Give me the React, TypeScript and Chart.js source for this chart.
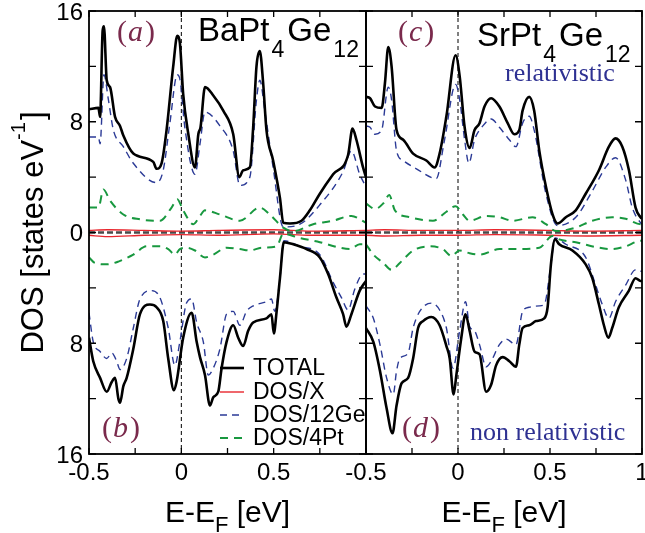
import React, { useEffect, useRef } from "react";
import { Chart, registerables } from "chart.js";

Chart.register(...registerables);

// ---------- data (energy E-EF in eV, DOS in states/eV) ----------
// Panel (a): BaPt4Ge12 relativistic
const aTotalE = [-0.5, -0.449, -0.44, -0.426, -0.419, -0.404, -0.386, -0.359, -0.332, -0.314, -0.26, -0.152, -0.134, -0.107, -0.08, -0.044, -0.022, -0.008, 0.01, 0.038, 0.074, 0.092, 0.104, 0.128, 0.173, 0.227, 0.281, 0.314, 0.335, 0.371, 0.389, 0.407, 0.425, 0.443, 0.461, 0.497, 0.534, 0.552, 0.588, 0.651, 0.696, 0.75, 0.822, 0.903, 0.927, 0.948, 0.984, 1.0];
const aTotalD = [8.9, 9.0, 8.35, 14.6, 14.9, 11.0, 10.5, 8.35, 7.7, 7.0, 5.7, 5.1, 4.6, 5.0, 7.4, 12.0, 14.2, 13.7, 10.0, 7.1, 4.7, 7.1, 7.6, 10.5, 9.9, 8.8, 7.1, 4.0, 4.5, 4.7, 7.6, 12.0, 13.1, 10.8, 7.4, 5.2, 2.5, 0.7, 0.65, 0.85, 1.6, 2.8, 4.2, 5.6, 7.5, 6.7, 4.7, 4.0];
const aGeE = [-0.5, -0.449, -0.44, -0.419, -0.395, -0.368, -0.314, -0.26, -0.134, -0.098, -0.062, -0.022, -0.008, 0.019, 0.074, 0.101, 0.128, 0.209, 0.281, 0.317, 0.371, 0.407, 0.425, 0.452, 0.497, 0.552, 0.642, 0.75, 0.876, 0.921, 0.966, 1.0];
const aGeD = [6.9, 6.9, 6.4, 11.4, 9.6, 7.4, 6.2, 5.0, 3.6, 4.5, 7.9, 11.4, 11.1, 7.6, 4.2, 6.4, 8.7, 7.7, 5.9, 3.4, 4.0, 9.6, 11.0, 8.8, 4.7, 0.4, 0.6, 2.0, 4.4, 5.9, 4.2, 3.3];
const aPtE = [-0.5, -0.449, -0.422, -0.386, -0.314, -0.224, -0.116, -0.053, -0.022, 0.01, 0.065, 0.101, 0.128, 0.209, 0.317, 0.425, 0.479, 0.552, 0.606, 0.714, 0.822, 0.921, 1.0];
const aPtD = [1.8, 1.8, 3.1, 2.3, 1.3, 0.95, 0.85, 1.8, 2.4, 1.6, 0.6, 1.2, 1.6, 1.3, 0.85, 1.8, 1.3, 0.35, 0.1, 0.6, 0.85, 1.2, 0.7];
const aXE = [-0.5, -0.4, -0.2, 0.0, 0.2, 0.5, 0.7, 1.0];
const aXD = [0.15, 0.2, 0.15, 0.1, 0.15, 0.2, 0.1, 0.15];

// Panel (b): BaPt4Ge12 non relativistic
const bTotalE = [-0.5, -0.477, -0.44, -0.404, -0.377, -0.359, -0.341, -0.332, -0.314, -0.296, -0.26, -0.224, -0.17, -0.134, -0.098, -0.071, -0.04, -0.026, 0.01, 0.056, 0.083, 0.101, 0.128, 0.155, 0.173, 0.2, 0.218, 0.245, 0.281, 0.308, 0.335, 0.362, 0.389, 0.461, 0.488, 0.501, 0.516, 0.534, 0.555, 0.606, 0.678, 0.75, 0.795, 0.84, 0.876, 0.894, 0.921, 0.966, 1.0];
const bTotalD = [7.6, 9.3, 10.5, 11.5, 10.8, 10.5, 12.0, 12.3, 11.1, 10.5, 8.4, 5.9, 5.2, 5.4, 6.4, 9.1, 11.4, 10.8, 7.6, 5.8, 7.9, 9.0, 10.3, 12.5, 11.9, 11.5, 9.8, 7.9, 6.7, 7.6, 8.2, 7.1, 6.5, 6.2, 5.9, 7.3, 5.7, 3.3, 0.7, 0.85, 1.2, 1.8, 3.0, 4.7, 5.9, 6.8, 5.9, 4.2, 3.5];
const bGeE = [-0.5, -0.477, -0.44, -0.404, -0.377, -0.35, -0.332, -0.296, -0.26, -0.224, -0.161, -0.116, -0.071, -0.035, -0.008, 0.028, 0.056, 0.083, 0.119, 0.146, 0.173, 0.209, 0.245, 0.281, 0.317, 0.353, 0.389, 0.461, 0.488, 0.506, 0.534, 0.555, 0.642, 0.75, 0.822, 0.867, 0.903, 0.939, 0.984, 1.0];
const bGeD = [5.8, 7.9, 8.6, 9.1, 8.7, 9.3, 9.9, 9.1, 6.9, 4.8, 4.2, 4.7, 6.9, 9.6, 7.9, 5.1, 4.8, 6.5, 7.9, 10.3, 9.8, 8.4, 5.9, 5.7, 6.7, 5.7, 5.3, 5.0, 4.8, 5.7, 3.3, 0.6, 1.0, 1.6, 3.6, 4.7, 5.6, 4.1, 3.0, 3.0];
const bPtE = [-0.5, -0.468, -0.404, -0.341, -0.26, -0.188, -0.116, -0.071, -0.035, -0.008, 0.028, 0.074, 0.128, 0.173, 0.245, 0.317, 0.371, 0.434, 0.516, 0.552, 0.642, 0.75, 0.858, 0.912, 0.966, 1.0];
const bPtD = [1.8, 2.2, 2.3, 2.1, 1.6, 1.0, 1.0, 1.2, 1.6, 1.2, 1.1, 1.3, 1.8, 1.6, 1.1, 1.2, 1.3, 1.1, 1.0, 0.1, 0.4, 0.7, 1.1, 1.2, 0.85, 0.85];
const bXE = [-0.5, -0.4, -0.2, 0.0, 0.2, 0.5, 0.7, 1.0];
const bXD = [0.2, 0.3, 0.2, 0.15, 0.2, 0.1, 0.2, 0.2];

// Panel (c): SrPt4Ge12 relativistic
const cTotalE = [-0.5, -0.478, -0.451, -0.415, -0.397, -0.379, -0.361, -0.334, -0.298, -0.244, -0.172, -0.127, -0.1, -0.063, -0.013, 0.009, 0.036, 0.063, 0.09, 0.117, 0.144, 0.18, 0.225, 0.27, 0.306, 0.333, 0.351, 0.387, 0.414, 0.442, 0.478, 0.514, 0.541, 0.586, 0.64, 0.694, 0.766, 0.82, 0.856, 0.893, 0.929, 0.965, 0.992, 1.0];
const cTotalD = [9.8, 9.7, 9.1, 9.0, 10.8, 13.4, 12.0, 7.4, 6.7, 5.7, 5.2, 4.7, 5.7, 8.4, 12.8, 11.3, 7.6, 6.1, 7.4, 7.9, 9.1, 9.7, 9.1, 7.9, 7.1, 7.4, 8.8, 9.8, 8.8, 5.9, 3.3, 1.3, 0.65, 1.1, 1.6, 2.8, 4.5, 6.2, 6.8, 6.2, 4.5, 1.8, 1.1, 1.0];
const cGeE = [-0.5, -0.478, -0.451, -0.415, -0.379, -0.361, -0.334, -0.298, -0.226, -0.118, -0.073, -0.013, 0.009, 0.036, 0.059, 0.09, 0.135, 0.18, 0.225, 0.279, 0.315, 0.351, 0.387, 0.414, 0.478, 0.541, 0.64, 0.73, 0.802, 0.856, 0.911, 0.947, 0.992, 1.0];
const cGeD = [7.7, 7.6, 7.1, 7.4, 10.5, 9.6, 5.9, 5.2, 4.6, 3.9, 6.7, 10.7, 9.6, 6.7, 5.0, 6.7, 7.7, 8.2, 7.6, 6.7, 6.2, 7.9, 8.4, 7.4, 2.8, 0.5, 1.1, 3.0, 4.7, 5.4, 3.8, 1.8, 0.7, 0.6];
const cPtE = [-0.5, -0.451, -0.406, -0.374, -0.343, -0.262, -0.136, -0.063, -0.013, 0.027, 0.063, 0.153, 0.225, 0.297, 0.405, 0.478, 0.532, 0.64, 0.73, 0.838, 0.911, 0.992, 1.0];
const cPtD = [2.1, 1.7, 2.1, 2.7, 1.6, 1.1, 0.85, 1.5, 1.9, 1.3, 0.85, 1.2, 1.1, 0.85, 1.1, 0.6, 0.1, 0.35, 0.85, 1.1, 1.0, 0.6, 0.6];
const cXE = [-0.5, -0.4, -0.2, 0.0, 0.2, 0.5, 0.7, 1.0];
const cXD = [0.15, 0.2, 0.15, 0.15, 0.2, 0.15, 0.1, 0.15];

// Panel (d): SrPt4Ge12 non relativistic
const dTotalE = [-0.5, -0.46, -0.424, -0.388, -0.356, -0.334, -0.307, -0.271, -0.244, -0.217, -0.19, -0.145, -0.1, -0.063, -0.045, -0.024, -0.009, 0.018, 0.041, 0.063, 0.09, 0.117, 0.153, 0.18, 0.207, 0.243, 0.279, 0.315, 0.333, 0.351, 0.387, 0.424, 0.469, 0.487, 0.505, 0.528, 0.55, 0.622, 0.694, 0.73, 0.766, 0.793, 0.817, 0.838, 0.874, 0.929, 0.965, 0.992, 1.0];
const dTotalD = [6.9, 7.9, 10.0, 12.7, 14.5, 12.5, 10.9, 10.5, 9.1, 6.9, 6.4, 6.1, 6.7, 8.2, 9.1, 11.7, 10.3, 7.6, 5.9, 7.1, 8.6, 8.8, 11.5, 11.0, 9.6, 9.0, 9.3, 9.7, 8.1, 6.9, 6.7, 6.4, 6.2, 5.4, 2.3, 0.5, 0.85, 1.3, 2.3, 3.3, 5.2, 6.7, 7.6, 6.9, 5.4, 4.2, 3.3, 3.5, 3.5];
const dGeE = [-0.5, -0.46, -0.424, -0.388, -0.352, -0.334, -0.316, -0.271, -0.244, -0.208, -0.145, -0.1, -0.063, -0.027, 0.009, 0.041, 0.063, 0.09, 0.117, 0.153, 0.18, 0.225, 0.261, 0.315, 0.351, 0.387, 0.442, 0.469, 0.505, 0.528, 0.586, 0.694, 0.748, 0.784, 0.82, 0.856, 0.911, 0.965, 0.992, 1.0];
const dGeD = [5.3, 6.2, 8.1, 10.5, 11.7, 10.0, 9.1, 8.7, 6.9, 5.7, 5.1, 5.6, 6.9, 9.8, 7.1, 5.0, 6.8, 7.1, 8.1, 9.7, 9.3, 8.1, 7.7, 8.1, 5.7, 5.4, 5.3, 5.2, 2.3, 0.4, 0.85, 1.8, 3.8, 5.2, 6.2, 5.0, 3.8, 2.7, 2.8, 2.8];
const dPtE = [-0.5, -0.46, -0.406, -0.361, -0.316, -0.244, -0.154, -0.082, -0.036, 0.009, 0.063, 0.117, 0.225, 0.315, 0.442, 0.514, 0.55, 0.64, 0.766, 0.838, 0.911, 0.992, 1.0];
const dPtD = [0.85, 1.6, 2.2, 2.7, 2.2, 1.3, 1.0, 1.2, 1.7, 1.3, 1.5, 1.6, 1.2, 1.2, 1.1, 0.25, 0.5, 0.7, 1.1, 1.2, 1.0, 0.6, 0.6];
const dXE = [-0.5, -0.4, -0.2, 0.0, 0.2, 0.5, 0.7, 1.0];
const dXD = [0.2, 0.25, 0.2, 0.2, 0.15, 0.2, 0.25, 0.2];

// ---------- axes ----------
const xMin = -0.5;
const xMax = 1.0;
const yMin = -16;
const yMax = 16;
const xTickValues = [-0.5, -0.25, 0, 0.25, 0.5, 0.75, 1.0];
const yTickValues = [-16, -12, -8, -4, 0, 4, 8, 12, 16];
const yLabelValues = [16, 8, 0, -8, -16];
const xLabelsLeft = [-0.5, 0, 0.5];
const xLabelsRight = [-0.5, 0, 0.5, 1];
const legendLabels = ["TOTAL", "DOS/X", "DOS/12Ge", "DOS/4Pt"];

// ---------- styles ----------
const SANS = '"Liberation Sans", Arial, Helvetica, sans-serif';
const SERIF = '"Liberation Serif", "Times New Roman", serif';
const LABEL_COLOR = "#7a2a4c";
const NOTE_COLOR = "#2e3192";

const STYLE_TOTAL = { borderColor: "#000000", borderWidth: 2.6, borderDash: [] as number[] };
const STYLE_X = { borderColor: "#e8262d", borderWidth: 1.4, borderDash: [] as number[] };
const STYLE_GE = { borderColor: "#2b3a96", borderWidth: 1.4, borderDash: [7, 5] };
const STYLE_PT = { borderColor: "#18983f", borderWidth: 2.0, borderDash: [8, 6] };
const legendStyles = [STYLE_TOTAL, STYLE_X, STYLE_GE, STYLE_PT];

function pts(e: number[], v: number[], sign: number) {
  return e.map((xv, i) => ({ x: xv, y: sign * v[i] }));
}

function ds(label: string, style: any, e: number[], v: number[], sign: number) {
  return {
    label,
    data: pts(e, v, sign),
    borderColor: style.borderColor,
    borderWidth: style.borderWidth,
    borderDash: style.borderDash,
    pointRadius: 0,
    fill: false,
    cubicInterpolationMode: "monotone" as const,
  };
}

type Part = { t: string; sub?: boolean };

function drawFormula(ctx: CanvasRenderingContext2D, parts: Part[], x: number, y: number, size: number, subSize: number, subDrop: number, gapBefore: number, gapAfter: number) {
  let cx = x;
  ctx.textAlign = "left";
  ctx.textBaseline = "alphabetic";
  for (const p of parts) {
    ctx.font = `${p.sub ? subSize : size}px ${SANS}`;
    if (p.sub) cx += gapBefore;
    ctx.fillText(p.t, cx, p.sub ? y + subDrop : y);
    cx += ctx.measureText(p.t).width + (p.sub ? gapAfter : 0);
  }
}

function partsWidth(ctx: CanvasRenderingContext2D, parts: Part[], size: number, subSize: number) {
  let w = 0;
  for (const p of parts) {
    ctx.font = `${p.sub ? subSize : size}px ${SANS}`;
    w += ctx.measureText(p.t).width;
  }
  return w;
}

function drawPanelLabel(ctx: CanvasRenderingContext2D, letter: string, x: number, y: number) {
  ctx.fillStyle = LABEL_COLOR;
  ctx.textAlign = "left";
  ctx.textBaseline = "alphabetic";
  let cx = x;
  ctx.font = `30px ${SERIF}`;
  ctx.fillText("(", cx, y);
  cx += ctx.measureText("(").width + 1;
  ctx.font = `italic 30px ${SERIF}`;
  ctx.fillText(letter, cx, y);
  cx += ctx.measureText(letter).width + 2;
  ctx.font = `30px ${SERIF}`;
  ctx.fillText(")", cx, y);
}

type PanelCfg = {
  side: "left" | "right";
  topLabel: string;
  bottomLabel: string;
  formula: Part[];
  formulaDx: number;
  formulaDy: number;
  xLabels: number[];
};

function makeDecor(cfg: PanelCfg) {
  return {
    id: "decor",
    beforeDatasetsDraw(chart: any) {
      const { ctx, chartArea: a } = chart;
      const xs = chart.scales.x;
      const ys = chart.scales.y;
      ctx.save();
      const y0 = ys.getPixelForValue(0);
      ctx.strokeStyle = "#4a4a4a";
      ctx.lineWidth = 2.5;
      ctx.setLineDash([6, 3]);
      ctx.beginPath();
      ctx.moveTo(a.left, y0);
      ctx.lineTo(a.right, y0);
      ctx.stroke();
      const x0 = xs.getPixelForValue(0);
      ctx.strokeStyle = "#000";
      ctx.lineWidth = 1;
      ctx.setLineDash([4, 3]);
      ctx.beginPath();
      ctx.moveTo(x0, a.top);
      ctx.lineTo(x0, a.bottom);
      ctx.stroke();
      ctx.restore();
    },
    afterDraw(chart: any) {
      const { ctx, chartArea: a } = chart;
      const xs = chart.scales.x;
      const ys = chart.scales.y;
      ctx.save();
      ctx.setLineDash([]);
      // frame
      ctx.strokeStyle = "#000";
      ctx.lineWidth = 1.8;
      ctx.strokeRect(a.left, a.top, a.right - a.left, a.bottom - a.top);
      // inward ticks
      ctx.lineWidth = 1.3;
      ctx.beginPath();
      for (const v of xTickValues) {
        const px = xs.getPixelForValue(v);
        ctx.moveTo(px, a.bottom);
        ctx.lineTo(px, a.bottom - 6);
        ctx.moveTo(px, a.top);
        ctx.lineTo(px, a.top + 6);
      }
      for (const v of yTickValues) {
        const py = ys.getPixelForValue(v);
        ctx.moveTo(a.left, py);
        ctx.lineTo(a.left + 7, py);
        ctx.moveTo(a.right, py);
        ctx.lineTo(a.right - 7, py);
      }
      ctx.stroke();

      // tick labels
      ctx.fillStyle = "#000";
      ctx.font = `24px ${SANS}`;
      ctx.textAlign = "center";
      ctx.textBaseline = "alphabetic";
      for (const v of cfg.xLabels) {
        ctx.fillText(String(v), xs.getPixelForValue(v), a.bottom + 26);
      }
      if (cfg.side === "left") {
        ctx.textAlign = "right";
        ctx.textBaseline = "middle";
        for (const v of yLabelValues) {
          ctx.fillText(String(Math.abs(v)), a.left - 6, ys.getPixelForValue(v) + 2);
        }
      }

      // x title
      const xParts: Part[] = [{ t: "E-E" }, { t: "F", sub: true }, { t: " [eV]" }];
      const w = partsWidth(ctx, xParts, 30, 22);
      ctx.fillStyle = "#000";
      drawFormula(ctx, xParts, (a.left + a.right) / 2 - w / 2, a.bottom + 68, 30, 22, 10, 0, 0);

      // y title (left only)
      if (cfg.side === "left") {
        ctx.save();
        ctx.translate(43, (a.top + a.bottom) / 2);
        ctx.rotate(-Math.PI / 2);
        ctx.fillStyle = "#000";
        ctx.textAlign = "left";
        ctx.textBaseline = "alphabetic";
        const m1 = "DOS [states eV";
        const s1 = "-1";
        const m2 = "]";
        ctx.font = `31px ${SANS}`;
        const w1 = ctx.measureText(m1).width;
        const w3 = ctx.measureText(m2).width;
        ctx.font = `20px ${SANS}`;
        const w2 = ctx.measureText(s1).width;
        let cx = -(w1 + w2 + w3 + 2) / 2;
        ctx.font = `31px ${SANS}`;
        ctx.fillText(m1, cx, 0);
        cx += w1;
        ctx.font = `20px ${SANS}`;
        ctx.fillText(s1, cx, -18);
        cx += w2 + 2;
        ctx.font = `31px ${SANS}`;
        ctx.fillText(m2, cx, 0);
        ctx.restore();
      }

      // formula
      ctx.fillStyle = "#000";
      drawFormula(ctx, cfg.formula, a.left + cfg.formulaDx, a.top + cfg.formulaDy, 33, 23, 16, 2, 3);

      // panel labels
      drawPanelLabel(ctx, cfg.topLabel, a.left + (cfg.side === "left" ? 28 : 32), a.top + 30);
      drawPanelLabel(ctx, cfg.bottomLabel, a.left + (cfg.side === "left" ? 13 : 36), a.top + 426);

      if (cfg.side === "right") {
        ctx.fillStyle = NOTE_COLOR;
        ctx.font = `26px ${SERIF}`;
        ctx.textAlign = "left";
        ctx.textBaseline = "alphabetic";
        ctx.fillText("relativistic", a.left + 139, a.top + 70);
        ctx.fillText("non relativistic", a.left + 104, a.top + 429);
      } else {
        // legend
        const rows = [357, 381, 404, 427];
        legendLabels.forEach((lab, i) => {
          const st = legendStyles[i];
          const ry = a.top + rows[i];
          ctx.strokeStyle = st.borderColor;
          ctx.lineWidth = st.borderWidth;
          ctx.setLineDash(st.borderDash);
          ctx.beginPath();
          ctx.moveTo(a.left + 131, ry);
          ctx.lineTo(a.left + 155, ry);
          ctx.stroke();
          ctx.setLineDash([]);
          ctx.fillStyle = "#000";
          ctx.font = `23px ${SANS}`;
          ctx.textAlign = "left";
          ctx.textBaseline = "middle";
          ctx.fillText(lab, a.left + 164, ry + 0.5);
        });
      }
      ctx.restore();
    },
  };
}

function buildChart(canvas: HTMLCanvasElement, datasets: any[], padRight: number, padLeft: number, cfg: PanelCfg) {
  return new Chart(canvas, {
    type: "line",
    data: { datasets },
    options: {
      responsive: false,
      maintainAspectRatio: false,
      animation: false,
      events: [],
      layout: { padding: { left: padLeft, right: padRight, top: 11, bottom: 79 } },
      scales: {
        x: { type: "linear", min: xMin, max: xMax, display: false },
        y: { type: "linear", min: yMin, max: yMax, display: false },
      },
      plugins: { legend: { display: false }, tooltip: { enabled: false } },
      elements: { point: { radius: 0 } },
    },
    plugins: [makeDecor(cfg)],
  } as any);
}

export default function App() {
  const leftRef = useRef<HTMLCanvasElement>(null);
  const rightRef = useRef<HTMLCanvasElement>(null);

  useEffect(() => {
    const leftSets = [
      ds("TOTAL", STYLE_TOTAL, aTotalE, aTotalD, 1),
      ds("TOTAL nr", STYLE_TOTAL, bTotalE, bTotalD, -1),
      ds("DOS/12Ge", STYLE_GE, aGeE, aGeD, 1),
      ds("DOS/12Ge nr", STYLE_GE, bGeE, bGeD, -1),
      ds("DOS/4Pt", STYLE_PT, aPtE, aPtD, 1),
      ds("DOS/4Pt nr", STYLE_PT, bPtE, bPtD, -1),
      ds("DOS/X", STYLE_X, aXE, aXD, 1),
      ds("DOS/X nr", STYLE_X, bXE, bXD, -1),
    ];
    const rightSets = [
      ds("TOTAL", STYLE_TOTAL, cTotalE, cTotalD, 1),
      ds("TOTAL nr", STYLE_TOTAL, dTotalE, dTotalD, -1),
      ds("DOS/12Ge", STYLE_GE, cGeE, cGeD, 1),
      ds("DOS/12Ge nr", STYLE_GE, dGeE, dGeD, -1),
      ds("DOS/4Pt", STYLE_PT, cPtE, cPtD, 1),
      ds("DOS/4Pt nr", STYLE_PT, dPtE, dPtD, -1),
      ds("DOS/X", STYLE_X, cXE, cXD, 1),
      ds("DOS/X nr", STYLE_X, dXE, dXD, -1),
    ];
    const left = buildChart(leftRef.current!, leftSets, 380 - 366, 89, {
      side: "left",
      topLabel: "a",
      bottomLabel: "b",
      formula: [{ t: "BaPt" }, { t: "4", sub: true }, { t: "Ge" }, { t: "12", sub: true }],
      formulaDx: 109,
      formulaDy: 30,
      xLabels: xLabelsLeft,
    });
    const right = buildChart(rightRef.current!, rightSets, 360 - 342, 66, {
      side: "right",
      topLabel: "c",
      bottomLabel: "d",
      formula: [{ t: "SrPt" }, { t: "4", sub: true }, { t: "Ge" }, { t: "12", sub: true }],
      formulaDx: 111,
      formulaDy: 35,
      xLabels: xLabelsRight,
    });
    return () => {
      left.destroy();
      right.destroy();
    };
  }, []);

  return (
    <div style={{ position: "fixed", left: 0, top: 0, width: 645, height: 533, overflow: "hidden", background: "#fff" }}>
      <canvas ref={leftRef} width={380} height={533} style={{ position: "absolute", left: 0, top: 0 }} />
      <canvas ref={rightRef} width={360} height={533} style={{ position: "absolute", left: 300, top: 0 }} />
    </div>
  );
}
